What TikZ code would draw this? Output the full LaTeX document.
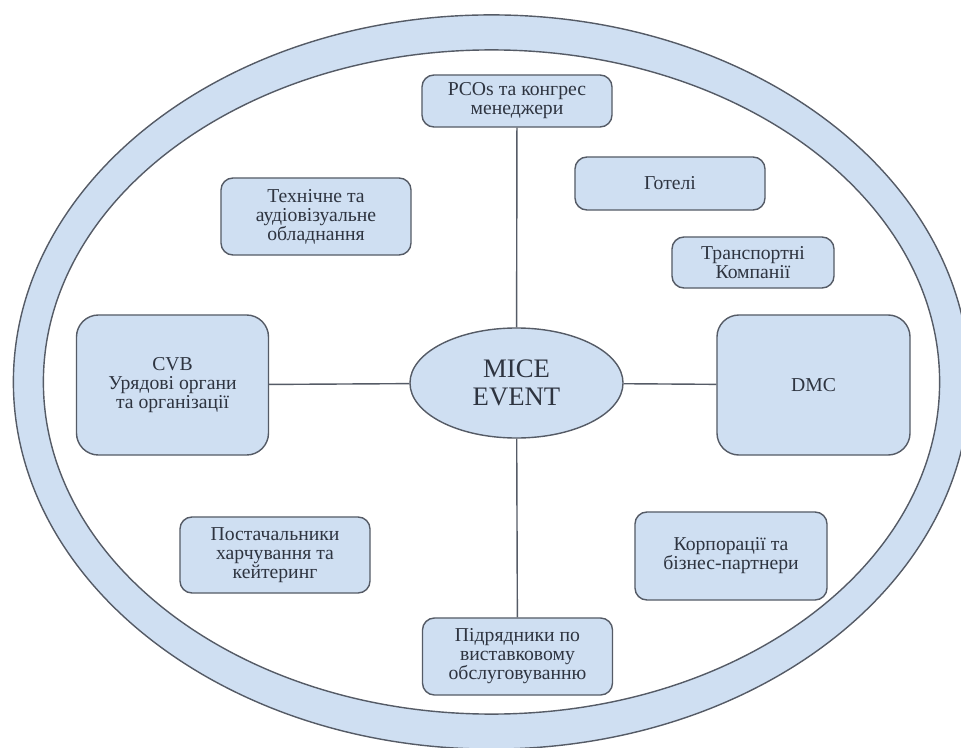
\documentclass[tikz,border=0pt]{standalone}
\usepackage{fontspec}
\setmainfont{Liberation Serif}
\usetikzlibrary{shapes.geometric}

\definecolor{boxblue}{HTML}{CFDFF2}
\definecolor{edgegray}{HTML}{555B66}
\definecolor{txtgray}{HTML}{2E3440}

\tikzset{
  part/.style={draw=edgegray, fill=boxblue, rounded corners=0.3cm, line width=1pt,
    align=center, text=txtgray, font=\fontsize{14}{13.5}\selectfont,
    minimum width=4.75cm, inner sep=2pt},
  bigpart/.style={part, minimum width=4.8cm, minimum height=3.5cm, rounded corners=0.55cm},
  link/.style={draw=edgegray, line width=1pt}
}

\begin{document}
\begin{tikzpicture}[x=0.025cm, y=-0.025cm]
\useasboundingbox (0,0) rectangle (961,748);

% кільце
\draw[edgegray, fill=boxblue, line width=1pt] (491.5,382) ellipse [x radius=11.95cm, y radius=9.175cm];
\draw[edgegray, fill=white, line width=1pt] (491.5,382) ellipse [x radius=11.2cm, y radius=8.3cm];

% центр
\node[draw=edgegray, fill=boxblue, ellipse, line width=1pt, minimum width=5.325cm, minimum height=2.75cm,
  inner sep=1pt, align=center, text=txtgray, font=\fontsize{19}{20}\selectfont] (mice) at (516.5,383) {MICE\\EVENT};

% учасники
\node[part, minimum height=1.3cm] (pco) at (517,101) {PCOs та конгрес\\менеджери};
\node[part, minimum height=1.925cm] (tech) at (316,216.5) {Технічне та\\аудіовізуальне\\обладнання};
\node[part, minimum height=1.325cm] (hotel) at (670,183.5) {Готелі};
\node[part, minimum width=4.05cm, minimum height=1.275cm] (trans) at (753,262.5) {Транспортні\\Компанії};
\node[bigpart] (cvb) at (172.5,385) {CVB\\Урядові органи\\та організації};
\node[bigpart, minimum width=4.825cm] (dmc) at (813.5,385) {DMC};
\node[part, minimum height=1.9cm] (supply) at (275,555) {Постачальники\\харчування та\\кейтеринг};
\node[part, minimum width=4.8cm, minimum height=2.2cm] (corp) at (731,556) {Корпорації та\\бізнес-партнери};
\node[part, minimum height=1.925cm] (sub) at (517.5,656.5) {Підрядники по\\виставковому\\обслуговуванню};

% зв'язки
\draw[link] (pco) -- (mice);
\draw[link] (mice) -- (sub);
\draw[link] (cvb) -- (mice);
\draw[link] (mice) -- (dmc);
\end{tikzpicture}
\end{document}
